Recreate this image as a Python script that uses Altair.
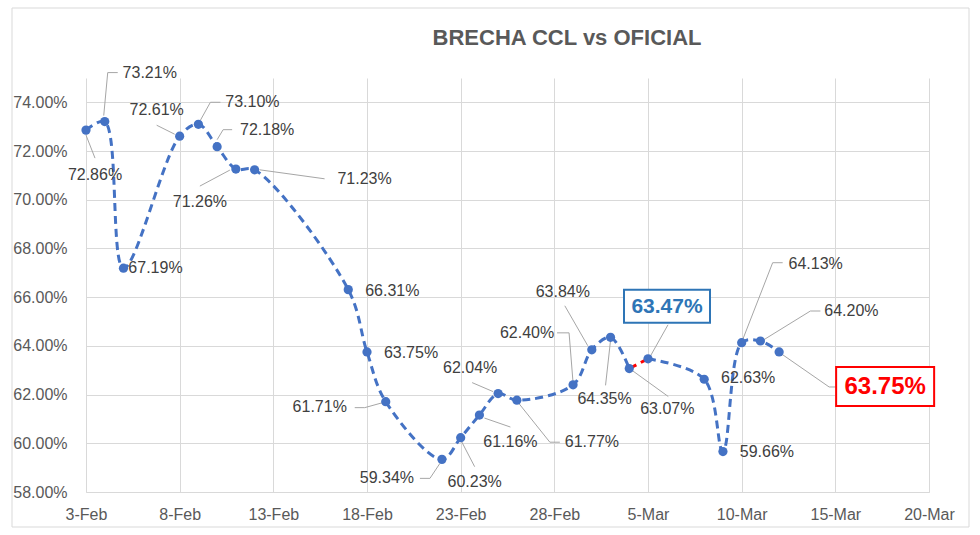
import altair as alt
import pandas as pd

# ---- data ----
dates = ["2021-02-03", "2021-02-04", "2021-02-05", "2021-02-08", "2021-02-09",
         "2021-02-10", "2021-02-11", "2021-02-12", "2021-02-17", "2021-02-18",
         "2021-02-19", "2021-02-22", "2021-02-23", "2021-02-24", "2021-02-25",
         "2021-02-26", "2021-03-01", "2021-03-02", "2021-03-03", "2021-03-04",
         "2021-03-05", "2021-03-08", "2021-03-09", "2021-03-10", "2021-03-11",
         "2021-03-12"]
brecha = [0.7286, 0.7321, 0.6719, 0.7261, 0.7310, 0.7218, 0.7126, 0.7123,
          0.6631, 0.6375, 0.6171, 0.5934, 0.6023, 0.6116, 0.6204, 0.6177,
          0.6240, 0.6384, 0.6435, 0.6307, 0.6347, 0.6263, 0.5966, 0.6413,
          0.6420, 0.6375]
y_ticks = [0.58, 0.60, 0.62, 0.64, 0.66, 0.68, 0.70, 0.72, 0.74]
x_ticks = [(2, 3), (2, 8), (2, 13), (2, 18), (2, 23), (2, 28), (3, 5), (3, 10), (3, 15), (3, 20)]
title_text = "BRECHA CCL vs OFICIAL"

# label placement (pixel offsets from each point)
label_dx = [9, 45, 32, -23, 54, 50, -36, 110, 44, 44, -66, -55, 14, 31, -28, 75,
            -46, -29, -6, 38, 19, 44, 44, 74, 91, 106]
label_dy = [45, -49, 0, -26, -22, -17, 33, 9, 1, 1, 5, 19, 44, 27, -26, 42,
            -52, -58, 62, 40, -52, -1, 0, -79, -30, 35]
leaders = {
    0: [(0, 5), (9, 28)],
    1: [(-1, -6), (3, -49), (13, -49)],
    3: [(-23, -11), (-5, -2)],
    4: [(2, -4), (12, -22), (22, -22)],
    5: [(0, -7), (6, -17), (15, -17)],
    6: [(-36, 17), (-6, 1)],
    7: [(5, 0), (70, 9)],
    10: [(-31, 6), (-21, 6), (-3, 1)],
    11: [(-22, 19), (-12, 19), (-2, 4)],
    12: [(1, 4), (14, 29)],
    13: [(5, 3), (31, 12)],
    14: [(-26, -11), (-5, -2)],
    15: [(1, 2), (33, 42), (43, 42)],
    16: [(-16, -52), (-4, -52), (0, -2)],
    17: [(-27, -44), (-4, -4)],
    18: [(0, 3), (-5, 48)],
    19: [(3, 2), (39, 28)],
    20: [(2, -2), (20, -34)],
    23: [(1, -3), (31, -80), (41, -80)],
    24: [(3, -1), (50, -30), (60, -30)],
    25: [(1, 1), (50, 35), (57, 35)],
}
blue_idx = 20
red_idx = 25

FONT = "Liberation Sans"
BLUE = "#4472C4"

df = pd.DataFrame({"date": dates, "val": brecha})

# segments for the line (red piece between 4-Mar and 5-Mar)
rows = []
for i in range(0, 20):
    rows.append({"date": dates[i], "val": brecha[i], "seg": "A"})
for i in (19, 20):
    rows.append({"date": dates[i], "val": brecha[i], "seg": "R"})
for i in range(20, len(dates)):
    rows.append({"date": dates[i], "val": brecha[i], "seg": "B"})
seg_df = pd.DataFrame(rows)

TU = "utcyearmonthdate"
X = alt.X(
    "date:T", timeUnit=TU,
    scale=alt.Scale(domain=[alt.DateTime(year=2021, month=2, date=3, utc=True),
                            alt.DateTime(year=2021, month=3, date=20, utc=True)]),
    axis=alt.Axis(values=[alt.DateTime(year=2021, month=m, date=d, utc=True) for m, d in x_ticks],
                  format="%-d-%b", title=None, grid=True, gridColor="#D9D9D9",
                  ticks=False, domain=True, domainColor="#D9D9D9", labelPadding=14,
                  labelFlush=False, labelOverlap=False, labelBound=False,
                  labelFont=FONT, labelFontSize=16, labelColor="#595959"),
)
X2 = alt.X2(field="date", timeUnit=TU)
Y = alt.Y(
    "val:Q",
    scale=alt.Scale(domain=[0.58, 0.75], nice=False, zero=False),
    axis=alt.Axis(values=y_ticks, format=".2%", title=None, grid=True, gridColor="#D9D9D9",
                  ticks=False, domain=False, labelPadding=19,
                  labelFont=FONT, labelFontSize=16, labelColor="#595959"),
)
Y2 = alt.Y2(field="val")

layers = []

# outer frame
layers.append(
    alt.Chart(alt.Data(values=[{"a": 1}])).mark_rect(
        fill="white", fillOpacity=0, stroke="#D9D9D9", strokeWidth=1
    ).encode(x=alt.value(-74), x2=alt.value(883), y=alt.value(-70), y2=alt.value(449))
)

# axes carrier
layers.append(alt.Chart(df).mark_point(opacity=0).encode(x=X, y=Y))

# leader lines
for i, pts in leaders.items():
    one = df.iloc[[i]]
    for (ax, ay), (bx, by) in zip(pts[:-1], pts[1:]):
        layers.append(
            alt.Chart(one).mark_rule(
                color="#A6A6A6", strokeWidth=1,
                xOffset=ax, yOffset=ay, x2Offset=bx, y2Offset=by
            ).encode(x=X, y=Y, x2=X2, y2=Y2)
        )

# line
layers.append(
    alt.Chart(seg_df).mark_line(
        strokeWidth=3, strokeDash=[8, 5], interpolate="catmull-rom"
    ).encode(
        x=X, y=Y, detail="seg:N",
        color=alt.Color("seg:N", scale=alt.Scale(domain=["A", "R", "B"],
                                                  range=[BLUE, "#FF0000", BLUE]),
                        legend=None),
    )
)

# points
layers.append(
    alt.Chart(df).mark_circle(size=85, color=BLUE, opacity=1).encode(x=X, y=Y)
)

# data labels
for i in range(len(dates)):
    if i in (blue_idx, red_idx):
        continue
    layers.append(
        alt.Chart(df.iloc[[i]]).mark_text(
            dx=label_dx[i], dy=label_dy[i], align="center", baseline="middle",
            font=FONT, fontSize=16, color="#404040"
        ).encode(x=X, y=Y, text=alt.Text("val:Q", format=".2%"))
    )

# highlighted labels with boxes
layers.append(
    alt.Chart(df.iloc[[blue_idx]]).mark_rect(
        fill="white", stroke="#2E75B6", strokeWidth=2,
        xOffset=-24, x2Offset=62, yOffset=-69, y2Offset=-36
    ).encode(x=X, y=Y, x2=X2, y2=Y2)
)
layers.append(
    alt.Chart(df.iloc[[blue_idx]]).mark_text(
        dx=label_dx[blue_idx], dy=label_dy[blue_idx], align="center", baseline="middle",
        font=FONT, fontSize=21, fontWeight="bold", color="#2E75B6"
    ).encode(x=X, y=Y, text=alt.Text("val:Q", format=".2%"))
)
layers.append(
    alt.Chart(df.iloc[[red_idx]]).mark_rect(
        fill="white", stroke="#FF0000", strokeWidth=2,
        xOffset=57, x2Offset=155, yOffset=15, y2Offset=54
    ).encode(x=X, y=Y, x2=X2, y2=Y2)
)
layers.append(
    alt.Chart(df.iloc[[red_idx]]).mark_text(
        dx=label_dx[red_idx], dy=label_dy[red_idx], align="center", baseline="middle",
        font=FONT, fontSize=24, fontWeight="bold", color="#FF0000"
    ).encode(x=X, y=Y, text=alt.Text("val:Q", format=".2%"))
)

# title
layers.append(
    alt.Chart(alt.Data(values=[{"t": title_text}])).mark_text(
        align="center", baseline="middle", font=FONT, fontSize=22,
        fontWeight="bold", color="#595959"
    ).encode(x=alt.value(481), y=alt.value(-40), text="t:N")
)

chart = alt.layer(*layers).properties(
    width=843, height=414,
    padding={"left": 86, "top": 78, "right": 51, "bottom": 43},
    autosize="none",
    background="white",
).configure_view(stroke=None)

chart.save("out.html", embed_options={"renderer": "svg", "actions": False})
